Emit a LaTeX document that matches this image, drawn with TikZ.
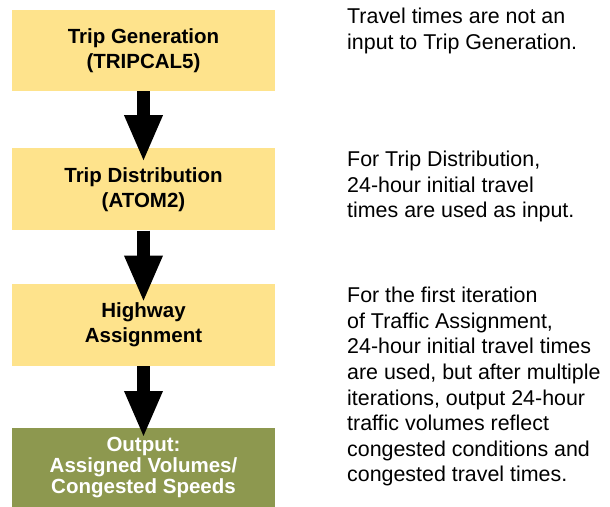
\documentclass[tikz,border=0pt]{standalone}
\usepackage{fontspec}
\setmainfont{Liberation Sans}
\usetikzlibrary{positioning, arrows.meta}
\definecolor{stageyellow}{RGB}{254,227,140}
\definecolor{outputolive}{RGB}{141,152,79}
\tikzset{
    stage/.style={fill=stageyellow, minimum width=263pt, inner sep=0pt,
        align=center, font=\bfseries\fontsize{20.5}{25}\selectfont}, % model step boxes
    result/.style={stage, fill=outputolive, text=white,
        font=\bfseries\fontsize{20.5}{21}\selectfont}, % final output box
    note/.style={anchor=north west, inner sep=0pt, align=left,
        font=\fontsize{21.4}{25.6}\selectfont}, % explanations on the right
    flow/.style={draw=black, line width=13pt,
        -{Triangle[width=35pt, length=47pt]}}, % thick block arrows
}

\begin{document}
\begin{tikzpicture}[x=1pt, y=1pt]
    \useasboundingbox (0,0) rectangle (610,-506);

    \node[stage, minimum height=81pt] (gen) at (143.5,-50.5) {Trip Generation\\(TRIPCAL5)};
    \node[stage, minimum height=82pt] (dist) [below=57pt of gen] {Trip Distribution\\(ATOM2)};
    \node[stage, minimum height=82pt] (hwy) [below=53pt of dist] {Highway\\Assignment};
    \node[result, minimum height=79pt] (out) [below=62pt of hwy] {Output:\\Assigned Volumes/\\Congested Speeds};

    \node[note] (genNote) at (347,-8) {Travel times are not an\\input to Trip Generation.};
    \node[note] (distNote) at (347,-151) {For Trip Distribution,\\24-hour initial travel\\times are used as input.};
    \node[note] (hwyNote) at (347,-287) {For the first iteration\\of Traffic Assignment,\\24-hour initial travel times\\are used, but after multiple\\iterations, output 24-hour\\traffic volumes reflect\\congested conditions and\\congested travel times.};

    \path
        (gen) edge [flow, shorten >=-14pt] (dist)
        (dist) edge [flow, shorten >=-19pt] (hwy)
        (hwy) edge [flow, shorten >=-10pt] (out);
\end{tikzpicture}
\end{document}
